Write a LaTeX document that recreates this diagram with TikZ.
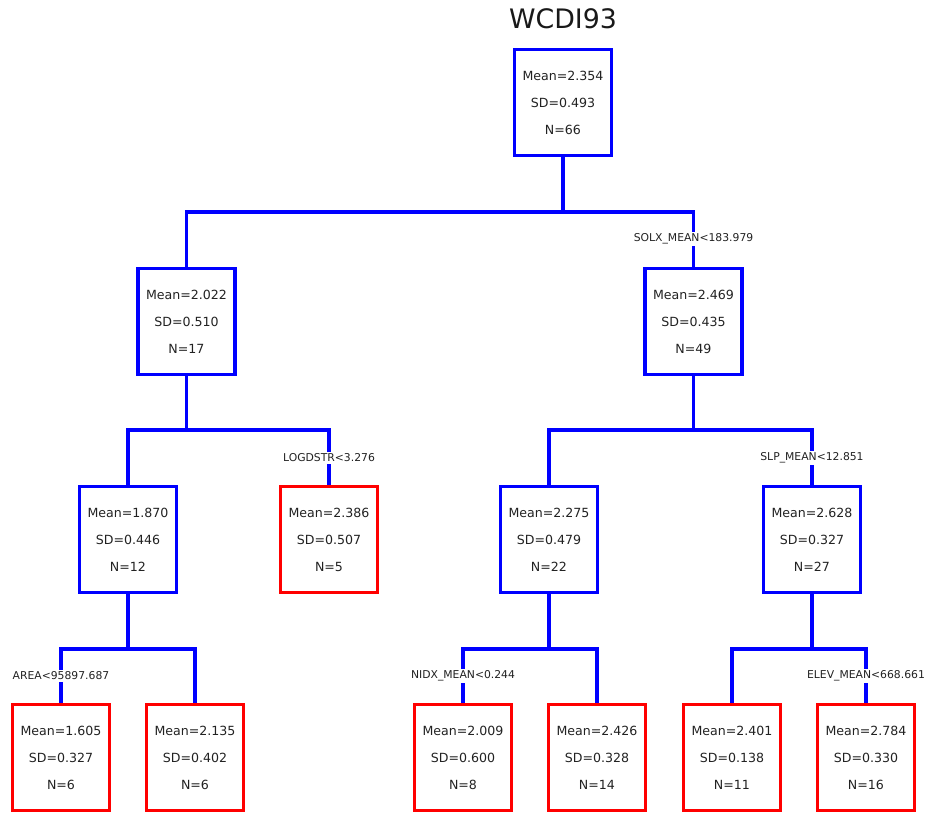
\documentclass[tikz,border=0pt]{standalone}
\usepackage{fontspec}
\setmainfont{DejaVu Sans}
\definecolor{treeblue}{RGB}{0,0,255}
\definecolor{leafred}{RGB}{255,0,0}
\definecolor{txt}{RGB}{34,34,34}
\begin{document}
\begin{tikzpicture}[x=1pt,y=-1pt,
  stat/.style={draw=treeblue, line width=3.3pt, minimum width=97pt, minimum height=106pt,
    inner sep=0pt, align=center, text=txt, font=\fontsize{12.6}{27}\selectfont},
  leaf/.style={stat, draw=leafred},
  link/.style={draw=treeblue, line width=3.3pt},
  split/.style={fill=white, inner sep=1.5pt, text=txt, font=\fontsize{10.8}{12}\selectfont}]
\useasboundingbox (0,0) rectangle (930,813);

% title
\node[text=black!90, font=\fontsize{26.8}{30}\selectfont] (title) at (563,19) {WCDI93};

% tree nodes
\node[stat] (n0) at (563,102.5) {Mean=2.354\\SD=0.493\\N=66};
\node[stat] (n1) at (186.5,321.5) {Mean=2.022\\SD=0.510\\N=17};
\node[stat] (n2) at (693.5,321.5) {Mean=2.469\\SD=0.435\\N=49};
\node[stat] (n3) at (128,539.5) {Mean=1.870\\SD=0.446\\N=12};
\node[leaf] (n4) at (329,539.5) {Mean=2.386\\SD=0.507\\N=5};
\node[stat] (n5) at (549,539.5) {Mean=2.275\\SD=0.479\\N=22};
\node[stat] (n6) at (812,539.5) {Mean=2.628\\SD=0.327\\N=27};
\node[leaf] (n7) at (61,757.5) {Mean=1.605\\SD=0.327\\N=6};
\node[leaf] (n8) at (195,757.5) {Mean=2.135\\SD=0.402\\N=6};
\node[leaf] (n9) at (463,757.5) {Mean=2.009\\SD=0.600\\N=8};
\node[leaf] (n10) at (597,757.5) {Mean=2.426\\SD=0.328\\N=14};
\node[leaf] (n11) at (732,757.5) {Mean=2.401\\SD=0.138\\N=11};
\node[leaf] (n12) at (866,757.5) {Mean=2.784\\SD=0.330\\N=16};

% branch junctions
\coordinate (j0) at (563,212);
\coordinate (j1) at (186.5,430);
\coordinate (j2) at (693.5,430);
\coordinate (j3) at (128,649);
\coordinate (j5) at (549,649);
\coordinate (j6) at (812,649);

% connectors
\draw[link] (n0.south) -- (j0);
\draw[link] (n1.north) |- (j0) -| (n2.north);
\draw[link] (n1.south) -- (j1);
\draw[link] (n3.north) |- (j1) -| (n4.north);
\draw[link] (n2.south) -- (j2);
\draw[link] (n5.north) |- (j2) -| (n6.north);
\draw[link] (n3.south) -- (j3);
\draw[link] (n7.north) |- (j3) -| (n8.north);
\draw[link] (n5.south) -- (j5);
\draw[link] (n9.north) |- (j5) -| (n10.north);
\draw[link] (n6.south) -- (j6);
\draw[link] (n11.north) |- (j6) -| (n12.north);

% split rules
\node[split] (s2) at (693.5,239) {SOLX\_MEAN<183.979};
\node[split] (s4) at (329,458) {LOGDSTR<3.276};
\node[split] (s6) at (812,458) {SLP\_MEAN<12.851};
\node[split] (s7) at (61,676) {AREA<95897.687};
\node[split] (s9) at (463,676) {NIDX\_MEAN<0.244};
\node[split] (s12) at (866,676) {ELEV\_MEAN<668.661};
\end{tikzpicture}
\end{document}
